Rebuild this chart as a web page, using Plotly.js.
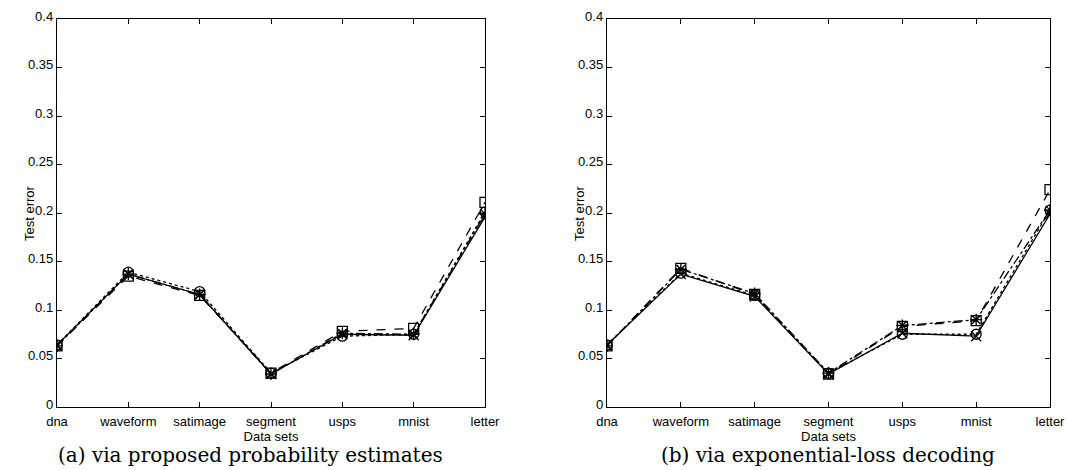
<!DOCTYPE html>
<html>
<head>
<meta charset="utf-8">
<script src="https://cdn.plot.ly/plotly-3.0.1.min.js"></script>
<style>
  html, body { margin: 0; padding: 0; background: #fff; }
  #chart { width: 1067px; height: 470px; }
</style>
</head>
<body>
<div id="chart"></div>
<script>
// Data sets on the x axis
const datasets = ['dna', 'waveform', 'satimage', 'segment', 'usps', 'mnist', 'letter'];

// (a) test error via proposed probability estimates
const probSolid   = [0.064, 0.137, 0.116, 0.034, 0.075, 0.074, 0.196];
const probDotted  = [0.064, 0.139, 0.119, 0.035, 0.073, 0.075, 0.201];
const probDashed  = [0.063, 0.135, 0.115, 0.035, 0.078, 0.081, 0.211];
const probDashDot = [0.063, 0.137, 0.116, 0.034, 0.076, 0.075, 0.199];

// (b) test error via exponential-loss decoding
const expSolid   = [0.064, 0.137, 0.114, 0.034, 0.076, 0.073, 0.199];
const expDotted  = [0.064, 0.138, 0.115, 0.035, 0.075, 0.075, 0.203];
const expDashed  = [0.063, 0.143, 0.116, 0.034, 0.083, 0.089, 0.224];
const expDashDot = [0.063, 0.142, 0.117, 0.035, 0.084, 0.090, 0.203];

const yTicks = [0, 0.05, 0.1, 0.15, 0.2, 0.25, 0.3, 0.35, 0.4];
const yTickText = ['0', '0.05', '0.1', '0.15', '0.2', '0.25', '0.3', '0.35', '0.4'];

const xIdx = datasets.map((_, i) => i);

const styles = [
  { dash: 'solid',   symbol: 'x-thin-open' },
  { dash: 'dot',     symbol: 'circle-open' },
  { dash: 'dash',    symbol: 'square-open' },
  { dash: 'dashdot', symbol: 'asterisk-open' }
];

function series(values, style, xa, ya) {
  return {
    x: xIdx, y: values, xaxis: xa, yaxis: ya,
    type: 'scatter', mode: 'lines+markers', showlegend: false,
    line: { color: '#000', width: 1.3, dash: style.dash },
    marker: { symbol: style.symbol, size: 10, color: '#000',
              line: { color: '#000', width: 1.3 } },
    hoverinfo: 'skip'
  };
}

const traces = [];
[probSolid, probDotted, probDashed, probDashDot].forEach((v, i) => traces.push(series(v, styles[i], 'x', 'y')));
[expSolid, expDotted, expDashed, expDashDot].forEach((v, i) => traces.push(series(v, styles[i], 'x2', 'y2')));

const tickFont = { family: 'Liberation Sans, Arial, sans-serif', size: 13, color: '#000' };

function xAxis(domain, anchor) {
  return {
    domain: domain, anchor: anchor, range: [0, 6],
    tickmode: 'array', tickvals: xIdx, ticktext: datasets,
    ticks: 'inside', ticklen: 5, tickcolor: '#000', mirror: 'ticks',
    showline: true, linecolor: '#000', linewidth: 1.2,
    showgrid: false, zeroline: false, tickfont: tickFont,
    ticklabelstandoff: 2,
    title: { text: 'Data sets', font: tickFont, standoff: 0 }
  };
}
function yAxis(domain, anchor) {
  return {
    domain: domain, anchor: anchor, range: [0, 0.4],
    tickmode: 'array', tickvals: yTicks, ticktext: yTickText,
    ticks: 'inside', ticklen: 5, tickcolor: '#000', mirror: 'ticks',
    showline: true, linecolor: '#000', linewidth: 1.2,
    showgrid: false, zeroline: false, tickfont: tickFont,
    ticklabelshift: -3
  };
}

const yDom = [1 - 407 / 470, 1 - 19 / 470];
const captionFont = { family: 'DejaVu Serif, Liberation Serif, serif', size: 20, color: '#000' };

function yTitle(xPx) {
  return { text: 'Test error', xref: 'paper', yref: 'paper',
           x: xPx / 1067, y: 1 - 213 / 470, xanchor: 'center', yanchor: 'middle',
           textangle: -90, showarrow: false, font: tickFont };
}

const layout = {
  width: 1067, height: 470,
  margin: { l: 0, r: 0, t: 0, b: 0 },
  paper_bgcolor: '#fff', plot_bgcolor: '#fff',
  xaxis: xAxis([57 / 1067, 485 / 1067], 'y'),
  yaxis: yAxis(yDom, 'x'),
  xaxis2: xAxis([607 / 1067, 1050 / 1067], 'y2'),
  yaxis2: yAxis(yDom, 'x2'),
  annotations: [
    yTitle(29), yTitle(579),
    { text: '(a) via proposed probability estimates', xref: 'paper', yref: 'paper',
      x: 250 / 1067, y: 1 - 455 / 470, xanchor: 'center', yanchor: 'middle',
      showarrow: false, font: captionFont },
    { text: '(b) via exponential-loss decoding', xref: 'paper', yref: 'paper',
      x: 828 / 1067, y: 1 - 455 / 470, xanchor: 'center', yanchor: 'middle',
      showarrow: false, font: captionFont }
  ]
};

Plotly.newPlot('chart', traces, layout, { displayModeBar: false, staticPlot: true });
</script>
</body>
</html>
